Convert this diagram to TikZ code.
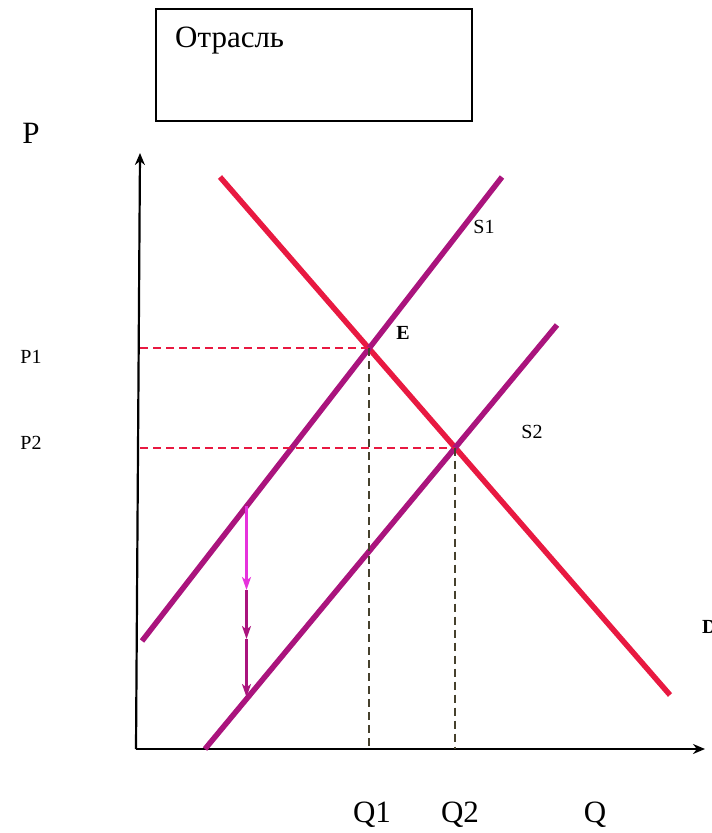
\documentclass[tikz,border=0pt]{standalone}
\usepackage{fontspec}
\setmainfont{Liberation Serif}
\usetikzlibrary{arrows.meta, positioning, calc}
\definecolor{demandred}{RGB}{232,25,65}
\definecolor{supplypurple}{RGB}{170,20,125}
\definecolor{shiftpink}{RGB}{230,50,220}
\definecolor{guideolive}{RGB}{70,65,45}

\begin{document}
\begin{tikzpicture}[
  x=1pt, y=-1pt,
  >=Stealth,
  axis/.style  = {line width=2.2pt, -{Stealth[length=12pt,width=10pt]}},
  curve/.style = {line width=5.5pt},
  guide/.style = {line width=2pt, dash pattern=on 8pt off 5pt},
  drop/.style  = {line width=2.2pt, -{Stealth[length=13pt,width=9pt,inset=3.5pt]}},
  big/.style   = {font=\fontsize{31}{37}\selectfont, inner sep=0pt},
  mid/.style   = {font=\fontsize{20}{24}\selectfont, inner sep=0pt},
  small/.style = {font=\fontsize{20}{24}\selectfont, inner sep=0pt}
]
\useasboundingbox (0,0) rectangle (712,833);

% title box
\node[draw, line width=2pt, minimum width=316pt, minimum height=112pt,
      anchor=north west, inner sep=0pt] (box) at (155,8) {};
\node[big, anchor=west] (title) at (175,41) {Отрасль};

% axes
\coordinate (origin) at (136,749);
\coordinate (ytop) at (140,153);
\coordinate (xend) at (705,749);
\draw[axis] (origin) -- (ytop);
\draw[axis] (origin) -- (xend);

% demand and supply
\coordinate (d1) at (220,177);
\coordinate (d2) at (670,695);
\coordinate (s1a) at (142,641);
\coordinate (s1b) at (502,177);
\coordinate (s2a) at (205,749);
\coordinate (s2b) at (557,325);
\draw[curve, demandred] (d1) -- (d2);
\draw[curve, supplypurple] (s1a) -- (s1b);
\draw[curve, supplypurple] (s2a) -- (s2b);

\coordinate (E) at (intersection of d1--d2 and s1a--s1b);
\coordinate (F) at (intersection of d1--d2 and s2a--s2b);

% guides
\draw[guide, demandred] (E -| ytop) -- (E);
\draw[guide, demandred] (F -| ytop) -- (F);
\draw[guide, guideolive] (E) -- (E |- origin);
\draw[guide, guideolive] (F) -- (F |- origin);

% shift of supply
\coordinate (a1) at (246.5,506);
\coordinate (a2) at (246.5,590);
\coordinate (a3) at (246.5,639);
\coordinate (a4) at (246.5,697);
\draw[drop, shiftpink] (a1) -- (a2);
\draw[drop, supplypurple] (a2) -- (a3);
\draw[drop, supplypurple] (a3) -- (a4);

% labels
\node[big] (plab) at (31,133) {P};
\node[mid] (p1) at (31,357) {P1};
\node[mid] (p2) at (31,443) {P2};
\node[big] (q1) at (372,815) {Q1};
\node[big] (q2) at (460,815) {Q2};
\node[big] (qlab) at (595,815) {Q};
\node[small] (s1lab) at (484,227) {S1};
\node[small] (s2lab) at (532,432) {S2};
\node[small, font=\fontsize{20}{24}\selectfont\bfseries] (elab) at (403,333) {E};
\node[small, font=\fontsize{20}{24}\selectfont\bfseries, anchor=west] (dlab) at (702,627) {D};
\end{tikzpicture}
\end{document}
